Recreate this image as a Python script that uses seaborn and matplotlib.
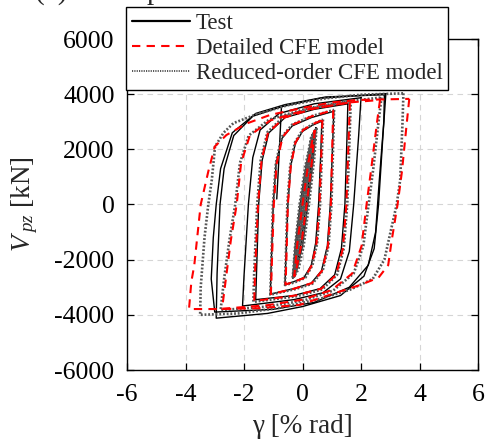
import matplotlib
matplotlib.use("Agg")
import matplotlib.pyplot as plt
import numpy as np
import pandas as pd
import seaborn as sns
from matplotlib.lines import Line2D

# ---------------- data ----------------
xticks = [-6, -4, -2, 0, 2, 4, 6]
yticks = [-6000, -4000, -2000, 0, 2000, 4000, 6000]
series_labels = ["Test", "Detailed CFE model", "Reduced-order CFE model"]

# Test (black solid): each inner list is one cycle
test_gamma = [
    [0.40, 0.30, 0.12, -0.05, -0.22, -0.30, -0.20, -0.02, 0.18, 0.32, 0.40],
    [0.46, 0.36, 0.18, 0.00, -0.18, -0.33, -0.25, -0.08, 0.12, 0.30, 0.46],
    [0.66, 0.63, 0.55, 0.45, 0.30, 0.05, -0.30, -0.60, -0.57, -0.50, -0.40, -0.25, 0.00, 0.35, 0.66],
    [1.07, 1.03, 0.95, 0.85, 0.65, 0.30, -0.30, -1.10, -1.07, -1.00, -0.90, -0.70, -0.35, 0.30, 1.07],
    [1.55, 1.52, 1.45, 1.33, 1.10, 0.60, -0.30, -1.60, -1.57, -1.50, -1.38, -1.15, -0.60, 0.40, 1.55],
    [2.00, 1.92, 1.75, 1.60, 1.30, 0.70, -0.30, -2.05, -2.00, -1.85, -1.70, -1.45, -0.80, 0.40, 2.00],
    [2.85, 2.75, 2.60, 2.45, 2.10, 1.30, 0.00, -1.20, -2.95, -2.92, -2.82, -2.68, -2.35, -1.70, -0.70, 0.60, 2.85],
    [2.80, 2.78, 2.62, 2.50, 2.25, 1.60, 0.40, -1.00, -3.00, -3.12, -3.05, -2.95, -2.80, -2.40, -1.60, -0.60, 0.80, 2.80],
    [-0.60, -0.72, -0.80, -0.88],
]
test_V = [
    [2650, 1500, 0, -1400, -2300, -2600, -1500, 0, 1500, 2300, 2650],
    [2780, 1600, 0, -1500, -2300, -2680, -1550, 0, 1400, 2300, 2780],
    [3020, 2000, 0, -1400, -2200, -2650, -2800, -2900, -2000, 0, 1400, 2200, 2650, 2880, 3020],
    [3380, 2200, 0, -1500, -2400, -2850, -3050, -3250, -2200, 0, 1500, 2400, 2850, 3150, 3380],
    [3650, 2400, 0, -1600, -2550, -3050, -3300, -3450, -2400, 0, 1600, 2600, 3150, 3450, 3650],
    [3870, 2500, 0, -1700, -2700, -3200, -3450, -3680, -2600, 0, 1700, 2700, 3300, 3650, 3870],
    [4020, 2500, 0, -1600, -2600, -3300, -3700, -3950, -4120, -2500, 0, 1300, 2500, 3200, 3550, 3850, 4020],
    [3980, 3000, 800, -1000, -2200, -3000, -3550, -3800, -3900, -2700, -1200, 0, 1300, 2600, 3300, 3620, 3900, 3980],
    [3600, 3540, 1800, 200],
]

# Detailed CFE model (red dashed)
det_gamma = [
    [0.42, 0.32, 0.14, -0.04, -0.20, -0.28, -0.18, 0.00, 0.20, 0.34, 0.42],
    [0.68, 0.65, 0.58, 0.48, 0.32, 0.08, -0.28, -0.58, -0.55, -0.50, -0.40, -0.24, 0.02, 0.36, 0.68],
    [1.05, 1.02, 0.97, 0.87, 0.67, 0.32, -0.28, -1.08, -1.05, -0.98, -0.88, -0.68, -0.32, 0.32, 1.05],
    [1.62, 1.58, 1.50, 1.38, 1.15, 0.65, -0.25, -1.65, -1.62, -1.52, -1.40, -1.18, -0.62, 0.40, 1.62],
    [2.65, 2.55, 2.35, 2.19, 2.02, 1.70, 1.00, 0.00, -1.20, -2.75, -2.62, -2.45, -2.25, -2.10, -1.80, -1.10, 0.20, 1.60, 2.65],
    [3.65, 3.55, 3.40, 3.25, 3.05, 2.93, 2.60, 1.97, 1.00, -0.10, -1.50, -2.80, -3.88, -3.80, -3.70, -3.48, -3.22, -3.00, -2.60, -1.90, -1.10, 0.00, 1.00, 1.90, 3.65],
]
det_V = [
    [2700, 1550, 0, -1450, -2300, -2600, -1450, 0, 1500, 2350, 2700],
    [3060, 2050, 0, -1400, -2200, -2650, -2800, -2900, -1950, 0, 1400, 2250, 2700, 2920, 3060],
    [3420, 2250, 0, -1500, -2400, -2850, -3050, -3250, -2200, 0, 1500, 2450, 2900, 3200, 3420],
    [3700, 2450, 0, -1600, -2550, -3050, -3300, -3500, -2400, 0, 1600, 2600, 3150, 3480, 3700],
    [3790, 3000, 1300, 0, -1500, -2500, -3100, -3450, -3650, -3780, -2700, -1300, 0, 1500, 2500, 3050, 3450, 3700, 3790],
    [3830, 2800, 1200, 0, -1300, -2200, -2650, -2920, -3250, -3640, -3760, -3790, -3790, -2800, -2200, 0, 1200, 2100, 2520, 2940, 3250, 3500, 3700, 3790, 3830],
]

# Reduced-order CFE model (grey dotted)
red_gamma = [
    [0.44, 0.34, 0.16, -0.02, -0.19, -0.29, -0.19, 0.00, 0.20, 0.34, 0.44],
    [0.38, 0.28, 0.10, -0.06, -0.22, -0.31, -0.22, -0.04, 0.15, 0.29, 0.38],
    [0.30, 0.22, 0.06, -0.10, -0.24, -0.30, -0.16, 0.02, 0.16, 0.25, 0.30],
    [0.48, 0.40, 0.22, 0.04, -0.14, -0.26, -0.12, 0.06, 0.24, 0.38, 0.48],
    [0.34, 0.24, 0.04, -0.14, -0.27, -0.33, -0.26, -0.10, 0.10, 0.26, 0.34],
    [0.70, 0.67, 0.60, 0.50, 0.34, 0.10, -0.26, -0.60, -0.57, -0.52, -0.42, -0.26, 0.00, 0.38, 0.70],
    [1.08, 1.05, 0.99, 0.89, 0.69, 0.34, -0.26, -1.10, -1.07, -1.01, -0.91, -0.71, -0.35, 0.30, 1.08],
    [1.65, 1.61, 1.53, 1.41, 1.18, 0.68, -0.22, -1.68, -1.65, -1.55, -1.43, -1.20, -0.65, 0.38, 1.65],
    [2.70, 2.60, 2.42, 2.26, 2.08, 1.75, 1.05, 0.05, -1.20, -2.80, -2.68, -2.50, -2.30, -2.14, -1.84, -1.14, 0.15, 1.60, 2.70],
    [3.45, 3.42, 3.34, 3.22, 3.00, 2.80, 2.40, 1.60, 0.50, -0.80, -2.20, -3.50, -3.48, -3.35, -3.22, -3.10, -2.99, -2.70, -2.36, -1.50, -0.50, 0.80, 2.00, 3.45],
]
red_V = [
    [2720, 1550, 0, -1450, -2300, -2620, -1450, 0, 1500, 2350, 2720],
    [2600, 1450, 0, -1400, -2250, -2580, -1500, 0, 1450, 2250, 2600],
    [2450, 1400, 0, -1400, -2200, -2500, -1300, 0, 1300, 2100, 2450],
    [2780, 1650, 0, -1500, -2350, -2560, -1400, 0, 1550, 2400, 2780],
    [2550, 1450, 0, -1450, -2300, -2640, -1600, 0, 1400, 2200, 2550],
    [3080, 2050, 0, -1400, -2200, -2650, -2820, -2920, -1950, 0, 1400, 2250, 2700, 2930, 3080],
    [3430, 2250, 0, -1500, -2400, -2870, -3070, -3270, -2200, 0, 1500, 2450, 2900, 3200, 3430],
    [3750, 2450, 0, -1600, -2550, -3080, -3330, -3530, -2400, 0, 1600, 2620, 3180, 3500, 3750],
    [3880, 3000, 1300, 0, -1500, -2500, -3120, -3480, -3700, -3830, -2700, -1300, 0, 1500, 2500, 3080, 3480, 3750, 3880],
    [4030, 3000, 890, 0, -1040, -2000, -2700, -3100, -3450, -3750, -3950, -4000, -3000, -1200, 0, 900, 2100, 2600, 2950, 3300, 3600, 3850, 3980, 4030],
]


def to_frame(gammas, vs):
    rows = []
    for i, (g, v) in enumerate(zip(gammas, vs)):
        for k, (a, b) in enumerate(zip(g, v)):
            rows.append({"gamma": a, "V": b, "loop": i, "order": k})
    return pd.DataFrame(rows)


df_test = to_frame(test_gamma, test_V)
df_det = to_frame(det_gamma, det_V)
df_red = to_frame(red_gamma, red_V)

# ---------------- style ----------------
sns.set_theme(style="ticks")
plt.rcParams.update({
    "font.family": ["Liberation Serif", "DejaVu Serif"],
    "mathtext.fontset": "custom",
    "mathtext.rm": "Liberation Serif",
    "mathtext.it": "Liberation Serif:italic",
    "axes.unicode_minus": False,
})

fig = plt.figure(figsize=(4.91, 4.44), dpi=100)
ax = fig.add_axes([127 / 491, 1 - 370 / 444, 351 / 491, 331 / 444])

c_test, c_det, c_red = "black", "#ff0000", "#555555"
dash_det = (0, (4, 3))
dot_red = (0, (0.7, 0.7))

sns.lineplot(data=df_test, x="gamma", y="V", units="loop", estimator=None,
             sort=False, color=c_test, lw=1.0, ax=ax, zorder=2)
sns.lineplot(data=df_red, x="gamma", y="V", units="loop", estimator=None,
             sort=False, color=c_red, lw=1.9, linestyle=dot_red, ax=ax, zorder=3)
sns.lineplot(data=df_det, x="gamma", y="V", units="loop", estimator=None,
             sort=False, color=c_det, lw=1.5, linestyle=dash_det, ax=ax, zorder=4)

ax.set_xlim(-6, 6)
ax.set_ylim(-6000, 6000)
ax.set_xticks(xticks)
ax.set_yticks(yticks)
ax.set_xticklabels([str(t) for t in xticks])
ax.set_yticklabels([str(t) for t in yticks])
ax.grid(True, color="#d5d5d5", linestyle=(0, (5, 4)), lw=0.8, zorder=0)
ax.set_axisbelow(True)
for s in ax.spines.values():
    s.set_visible(True)
    s.set_color("black")
    s.set_linewidth(1.0)
ax.tick_params(direction="in", length=5, width=0.9, top=True, right=True,
               labelsize=18.5, colors="black")
ax.tick_params(axis="x", pad=10)
ax.tick_params(axis="y", pad=9)
ax.set_xlabel("γ [% rad]", fontsize=19.5, labelpad=6)
ax.set_ylabel(r"$V_{\;pz}$ [kN]", fontsize=19.5, labelpad=10)

handles = [
    Line2D([], [], color=c_test, lw=1.6),
    Line2D([], [], color=c_det, lw=1.5, linestyle=dash_det),
    Line2D([], [], color=c_red, lw=1.4, linestyle=(0, (0.6, 0.6))),
]
leg = ax.legend(handles, series_labels, loc="upper left",
                bbox_to_anchor=(-0.003, 1.097), borderaxespad=0,
                fontsize=16.5, frameon=True, fancybox=False, framealpha=1,
                edgecolor="black", handlelength=2.55, handletextpad=0.25,
                labelspacing=0.18, borderpad=0.25)
leg.get_frame().set_linewidth(1.0)
leg.set_zorder(10)

fig.text(35 / 491, 1 + 1 / 444, "(c) Weak panel zone", fontsize=21,
         va="baseline", ha="left")

fig.savefig("out.png", dpi=100)
